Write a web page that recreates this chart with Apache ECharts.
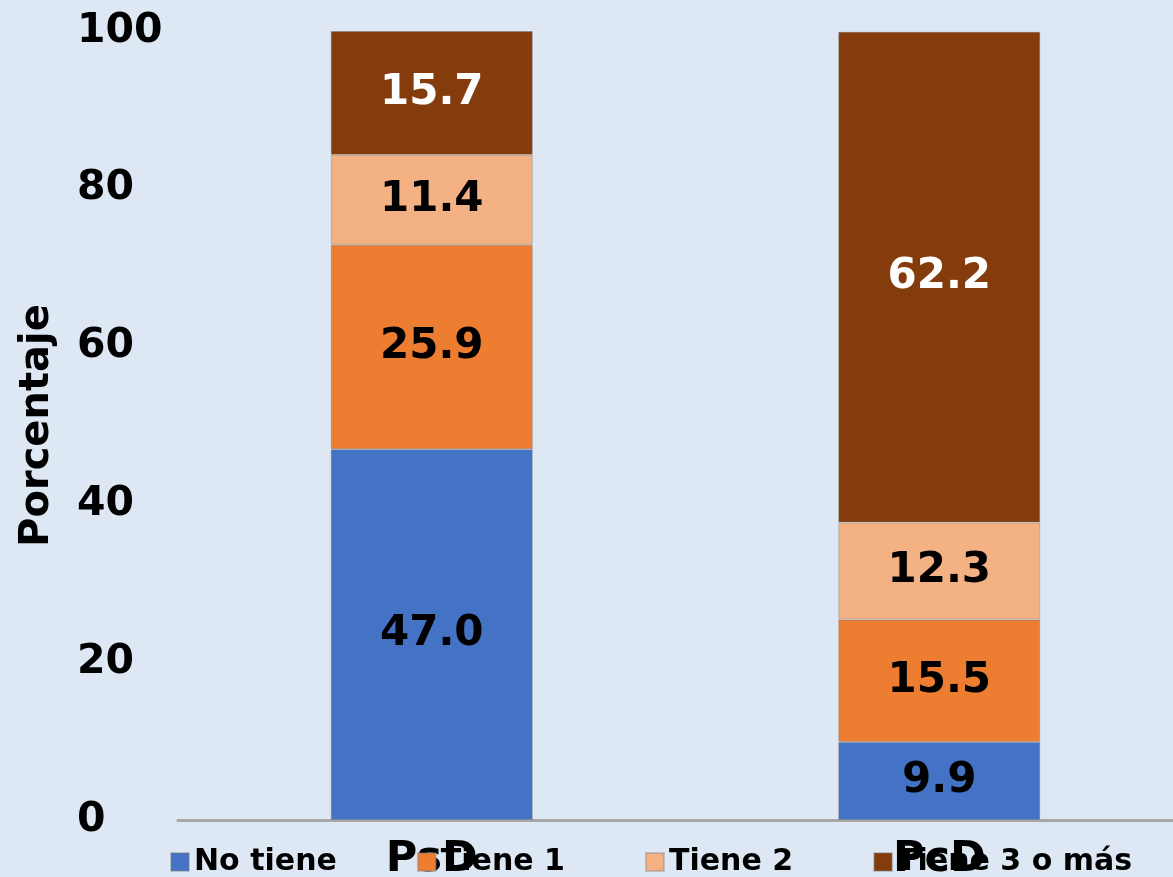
<!DOCTYPE html>
<html>
<head>
<meta charset="utf-8">
<script src="https://cdn.jsdelivr.net/npm/echarts@6/dist/echarts.min.js"></script>
<style>
html,body{margin:0;padding:0;background:#dde8f4;}
#chart{width:1173px;height:877px;}
</style>
</head>
<body>
<div id="chart"></div>
<script>
const categories = ['PsD', 'PcD'];
const seriesNames = ['No tiene', 'Tiene 1', 'Tiene 2', 'Tiene 3 o más'];
const noTiene = [47.0, 9.9];
const tiene1 = [25.9, 15.5];
const tiene2 = [11.4, 12.3];
const tiene3 = [15.7, 62.2];
const yTicks = [0, 20, 40, 60, 80, 100];

const colors = ['#4472c4', '#ed7d31', '#f4b183', '#843c0c'];
const labelColors = ['#000', '#000', '#000', '#fff'];
const values = [noTiene, tiene1, tiene2, tiene3];
const FONT = 'DejaVu Sans';

const chart = echarts.init(document.getElementById('chart'));
chart.setOption({
  backgroundColor: '#dde8f4',
  animation: false,
  color: colors,
  textStyle: { fontFamily: FONT },
  grid: { left: 178, right: -20, top: 31, bottom: 57, containLabel: false, outerBoundsMode: 'none' },
  legend: {
    data: seriesNames,
    left: 165,
    top: 842,
    icon: 'rect',
    itemWidth: 18,
    itemHeight: 18,
    itemGap: 80,
    textStyle: { fontSize: 30, fontWeight: 'bold', color: '#000', fontFamily: FONT }
  },
  xAxis: {
    type: 'category',
    data: categories,
    axisLine: { show: true, lineStyle: { color: '#a6a6a6', width: 3 } },
    axisTick: { show: false },
    axisLabel: { fontSize: 43, fontWeight: 'bold', color: '#000', margin: 18, fontFamily: FONT }
  },
  yAxis: {
    type: 'value',
    min: yTicks[0],
    max: yTicks[yTicks.length - 1],
    interval: yTicks[1] - yTicks[0],
    name: 'Porcentaje',
    nameLocation: 'middle',
    nameRotate: 90,
    nameGap: 120,
    nameTextStyle: { fontSize: 40, fontWeight: 'bold', color: '#000', fontFamily: FONT },
    axisLine: { show: false },
    axisTick: { show: false },
    splitLine: { show: false },
    axisLabel: { fontSize: 41, fontWeight: 'bold', color: '#000', align: 'left', margin: 101, fontFamily: FONT }
  },
  series: seriesNames.map((name, i) => ({
    name: name,
    type: 'bar',
    stack: 'total',
    barWidth: 202,
    data: values[i],
    itemStyle: { color: colors[i], borderColor: 'rgba(120,120,120,0.35)', borderWidth: 1 },
    label: {
      show: true,
      position: 'inside',
      formatter: p => p.value.toFixed(1),
      fontSize: 42,
      fontWeight: 'bold',
      color: labelColors[i],
      fontFamily: FONT
    }
  }))
});
</script>
</body>
</html>
